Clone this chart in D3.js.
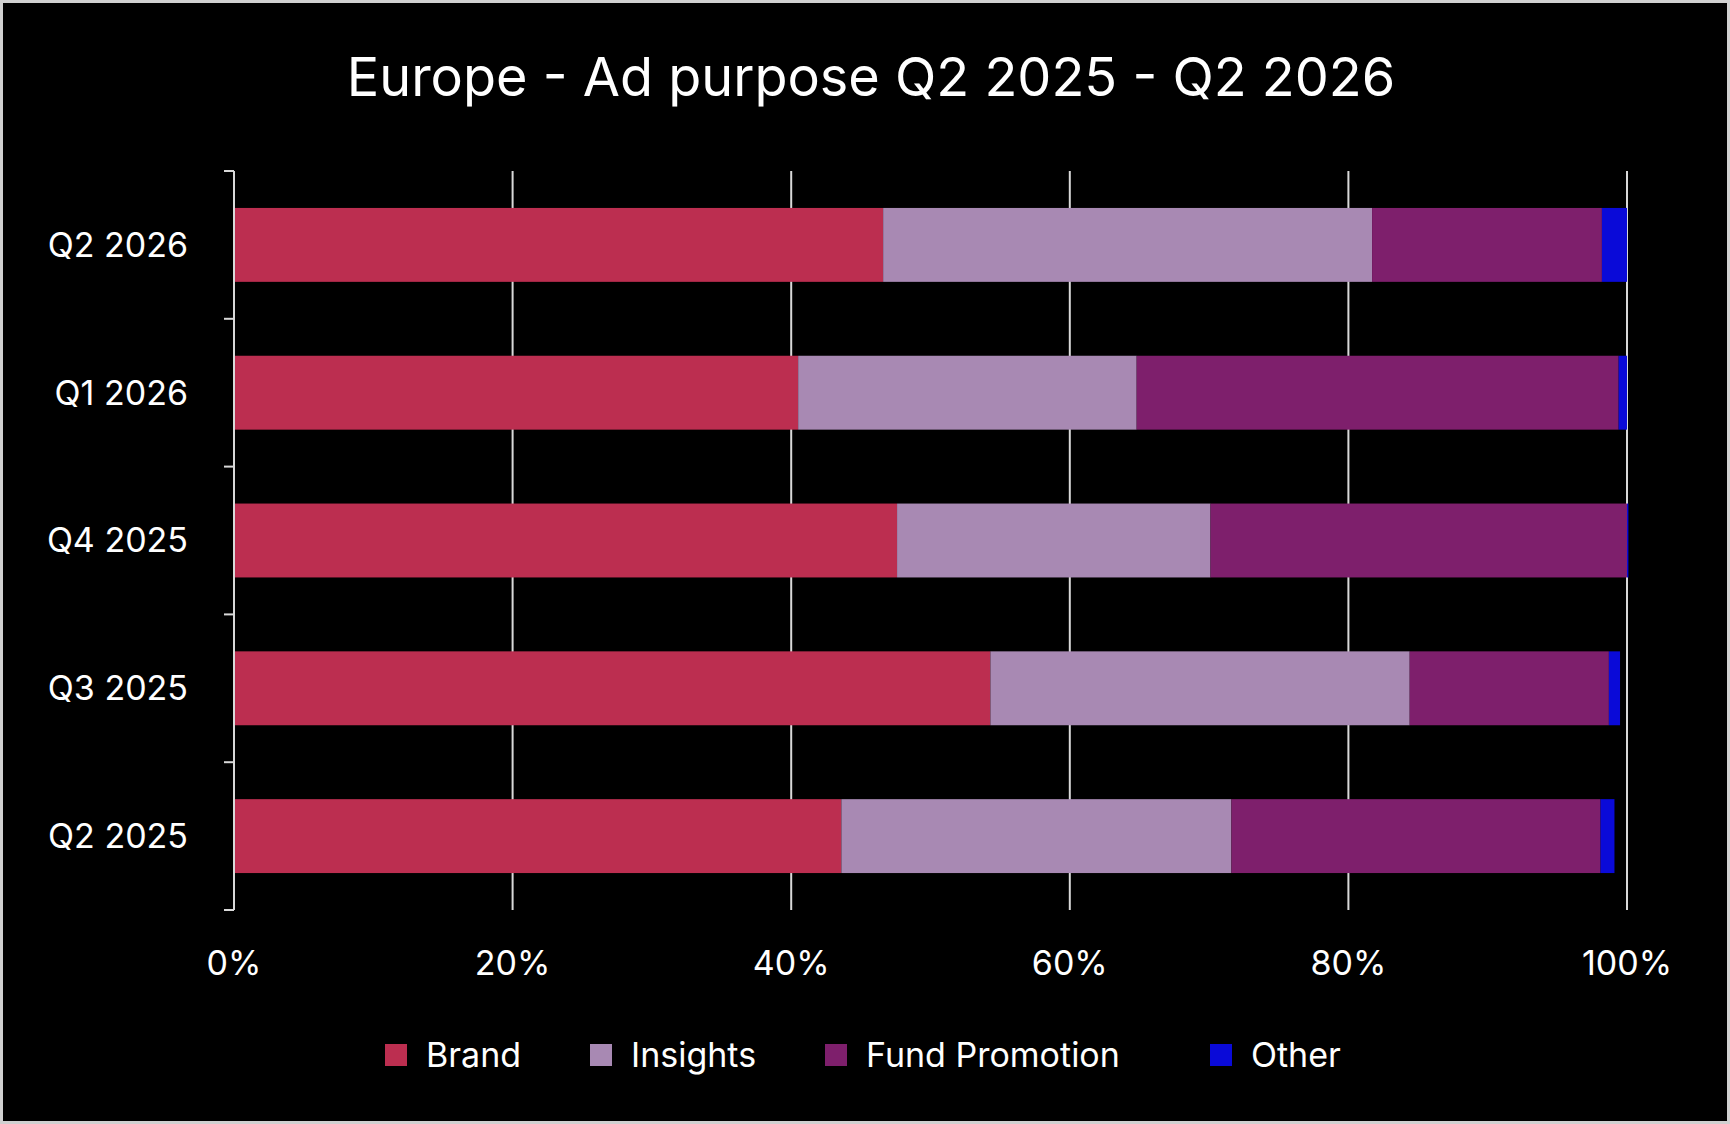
<!DOCTYPE html>
<html><head><meta charset="utf-8">
<script src="https://cdn.jsdelivr.net/npm/d3@7"></script>
<style>html,body{margin:0;padding:0;background:#000;}svg{display:block;font-family:Inter,"Open Sans",sans-serif;}</style>
</head><body><svg id="c" width="1730" height="1124"></svg>
<script>
const categories = ["Q2 2026","Q1 2026","Q4 2025","Q3 2025","Q2 2025"];
const series = ["Brand","Insights","Fund Promotion","Other"];
const brand = [46.6,40.5,47.6,54.3,43.6];
const insights = [35.1,24.3,22.5,30.1,28.0];
const fundPromotion = [16.5,34.6,29.9,14.3,26.5];
const other = [1.8,0.6,0.1,0.8,1.0];
const colors = ["#BC2E50","#A889B3","#7E1F6C","#0A0AD8"];
const xTicks = [0,20,40,60,80,100];

const svg = d3.select("#c");
svg.append("rect").attr("x",1.5).attr("y",1.5).attr("width",1727).attr("height",1121).attr("fill","#000").attr("stroke","#d0d0d0").attr("stroke-width",3);
const L=234,R=1627,T=171,B=910;
const x=d3.scaleLinear().domain([0,100]).range([L,R]);
const y=d3.scaleBand().domain(categories).range([T,B]).paddingInner(0.5).paddingOuter(0.25);
svg.append("g").selectAll("line").data(xTicks.slice(1)).join("line")
 .attr("x1",d=>x(d)).attr("x2",d=>x(d)).attr("y1",T).attr("y2",B).attr("stroke","#d9d9d9").attr("stroke-width",2);
const rows=categories.map((c,i)=>({c,v:[brand[i],insights[i],fundPromotion[i],other[i]]}));
rows.forEach(r=>{let acc=0;r.v.forEach((v,j)=>{
 svg.append("rect").attr("x",x(acc)).attr("width",x(acc+v)-x(acc)).attr("y",y(r.c)).attr("height",y.bandwidth()).attr("fill",colors[j]);
 acc+=v;});});
// y axis
const ya=svg.append("g").attr("transform",`translate(${L},0)`);
ya.append("line").attr("y1",T).attr("y2",B).attr("stroke","#d9d9d9").attr("stroke-width",2);
const step=(B-T)/categories.length;
d3.range(categories.length+1).forEach(i=>ya.append("line").attr("x1",-10).attr("x2",0).attr("y1",T+i*step).attr("y2",T+i*step).attr("stroke","#d9d9d9").attr("stroke-width",2));
svg.append("g").selectAll("text").data(categories).join("text").attr("x",188).attr("y",d=>y(d)+y.bandwidth()/2).attr("dy","0.35em")
 .attr("text-anchor","end").attr("fill","#fff").attr("font-size",34).text(d=>d);
svg.append("g").selectAll("text").data(xTicks).join("text").attr("x",d=>x(d)).attr("y",963).attr("dy","0.35em")
 .attr("text-anchor","middle").attr("fill","#fff").attr("font-size",34).text(d=>d+"%");
svg.append("text").attr("x",871).attr("y",77).attr("dy","0.35em").attr("text-anchor","middle").attr("fill","#fff").attr("font-size",54).text("Europe - Ad purpose Q2 2025 - Q2 2026");
// legend
const lx=[385,590,825,1210];
series.forEach((s,i)=>{
 svg.append("rect").attr("x",lx[i]).attr("y",1044).attr("width",22).attr("height",22).attr("fill",colors[i]);
 svg.append("text").attr("x",lx[i]+41).attr("y",1055).attr("dy","0.35em").attr("fill","#fff").attr("font-size",34).text(s);
});
</script></body></html>
